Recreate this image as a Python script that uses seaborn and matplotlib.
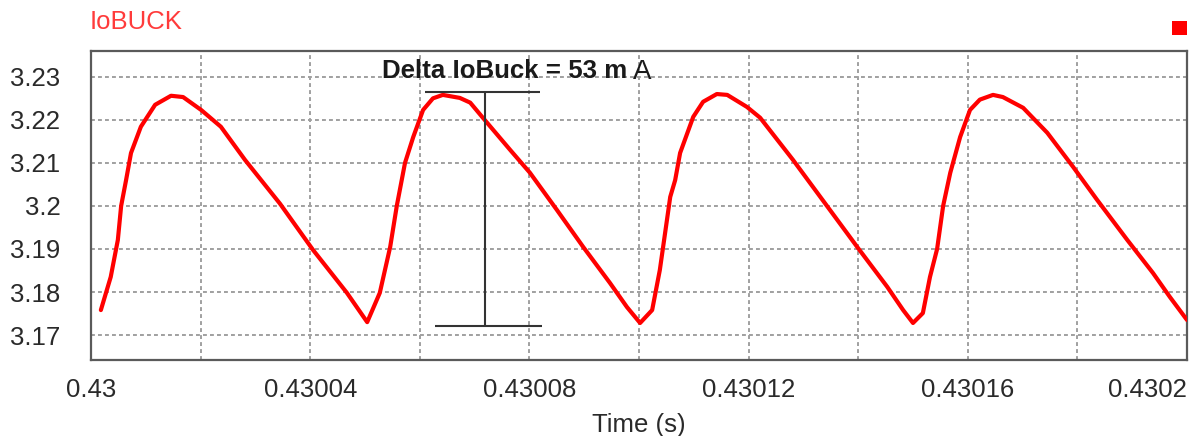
import matplotlib
matplotlib.use("Agg")
import matplotlib.pyplot as plt
from matplotlib.patches import Rectangle
import seaborn as sns
import pandas as pd

# ---- data ----
time_s = [
    0.4300018, 0.4300036, 0.4300049, 0.4300055, 0.4300064, 0.4300073, 0.4300091,
    0.4300117, 0.4300146, 0.4300168, 0.4300201, 0.4300237, 0.4300281, 0.4300345,
    0.4300405, 0.4300467, 0.4300504,
    0.4300527, 0.4300546, 0.4300558, 0.4300573, 0.4300588, 0.4300606, 0.4300624,
    0.4300642, 0.4300673, 0.4300692, 0.4300715, 0.4300765, 0.4300801, 0.4300850,
    0.4300898, 0.4300947, 0.4300978, 0.4301002,
    0.4301024, 0.4301038, 0.4301057, 0.4301066, 0.4301075, 0.4301099, 0.4301117,
    0.4301142, 0.4301161, 0.4301197, 0.4301221, 0.4301281, 0.4301343, 0.4301398,
    0.4301453, 0.4301482, 0.4301500,
    0.4301518, 0.4301531, 0.4301544, 0.4301555, 0.4301568, 0.4301586, 0.4301604,
    0.4301622, 0.4301646, 0.4301664, 0.4301701, 0.4301745, 0.4301792, 0.4301836,
    0.4301891, 0.4301938, 0.4301969, 0.4302000,
]
io_buck = [
    3.1758, 3.1835, 3.1921, 3.2000, 3.2060, 3.2123, 3.2184,
    3.2235, 3.2256, 3.2253, 3.2223, 3.2184, 3.2107, 3.2005,
    3.1898, 3.1798, 3.1730,
    3.1798, 3.1905, 3.2000, 3.2100, 3.2160, 3.2223, 3.2250,
    3.2258, 3.2251, 3.2240, 3.2205, 3.2130, 3.2077, 3.1991,
    3.1905, 3.1821, 3.1765, 3.1728,
    3.1758, 3.1851, 3.2021, 3.2060, 3.2123, 3.2207, 3.2242,
    3.2260, 3.2258, 3.2230, 3.2205, 3.2107, 3.2000, 3.1905,
    3.1812, 3.1758, 3.1728,
    3.1751, 3.1835, 3.1900, 3.2000, 3.2077, 3.2160, 3.2223,
    3.2247, 3.2258, 3.2253, 3.2228, 3.2170, 3.2091, 3.2014,
    3.1921, 3.1844, 3.1788, 3.1735,
]
x_ticks = [0.43, 0.43002, 0.43004, 0.43006, 0.43008, 0.43010, 0.43012,
           0.43014, 0.43016, 0.43018, 0.4302]
x_tick_labels = ["0.43", "", "0.43004", "", "0.43008", "", "0.43012",
                 "", "0.43016", "", "0.4302"]
y_ticks = [3.17, 3.18, 3.19, 3.20, 3.21, 3.22, 3.23]
y_tick_labels = ["3.17", "3.18", "3.19", "3.2", "3.21", "3.22", "3.23"]

delta_top = 3.2265
delta_bottom = 3.1721
delta_time = 0.4300719
delta_top_span = [0.4300610, 0.4300820]
delta_bottom_span = [0.4300628, 0.4300823]
delta_label = "Delta IoBuck = 53 m"
delta_unit = "A"
series_name = "IoBUCK"
x_label = "Time (s)"

# ---- plotting ----
sns.set_style("white")
plt.rcParams["font.family"] = ["Liberation Sans", "DejaVu Sans"]

W, H = 1196, 436
fig = plt.figure(figsize=(W / 100, H / 100), dpi=100)
ax = fig.add_axes([91 / W, 1 - 360 / H, (1187 - 91) / W, (360 - 51) / H])

df = pd.DataFrame({"t": time_s, "i": io_buck})
sns.lineplot(data=df, x="t", y="i", sort=False, estimator=None, ax=ax,
             color="#ff0000", linewidth=3.0, zorder=3)
for ln in ax.lines:
    ln.set_solid_joinstyle("round")
    ln.set_solid_capstyle("round")

ax.set_xlim(0.43, 0.4302)
ax.set_ylim(3.1642, 3.236)
ax.set_xticks(x_ticks)
ax.set_xticklabels(x_tick_labels)
ax.set_yticks(y_ticks)
ax.set_yticklabels(y_tick_labels)
xt = ax.get_xticklabels()
xt[-1].set_horizontalalignment("right")

ax.tick_params(axis="both", length=0, labelsize=18.5, labelcolor="#2a2a2a")
ax.tick_params(axis="x", pad=13)
ax.tick_params(axis="y", pad=22)
ax.set_xlabel(x_label, fontsize=18.5, color="#2a2a2a", labelpad=8)
ax.set_ylabel("")

ax.grid(True, color="#a0a0a0", linewidth=1.4, linestyle=(0, (2.0, 1.6)), zorder=1)
ax.set_axisbelow(True)
for s in ax.spines.values():
    s.set_visible(True)
    s.set_color("#5a5a5a")
    s.set_linewidth(1.6)

# measurement marker
ax.hlines(delta_top, delta_top_span[0], delta_top_span[1], color="#333333", lw=1.5, zorder=4)
ax.hlines(delta_bottom, delta_bottom_span[0], delta_bottom_span[1], color="#333333", lw=1.5, zorder=4)
ax.vlines(delta_time, delta_bottom, delta_top, color="#333333", lw=1.5, zorder=4)

fig.text(382 / W, 1 - 71 / H, delta_label, fontsize=18.6, fontweight="bold",
         color="#1a1a1a", ha="left", va="center")
fig.text(633 / W, 1 - 72 / H, delta_unit, fontsize=20, color="#1a1a1a",
         ha="left", va="center")

fig.text(90 / W, 1 - 22 / H, series_name, fontsize=18.5, color="#ff3b3b",
         ha="left", va="center")
fig.patches.append(Rectangle((1172 / W, 1 - 35 / H), 15 / W, 14 / H,
                             transform=fig.transFigure, facecolor="#ff0000",
                             edgecolor="none"))

fig.savefig("out.png", dpi=100)
